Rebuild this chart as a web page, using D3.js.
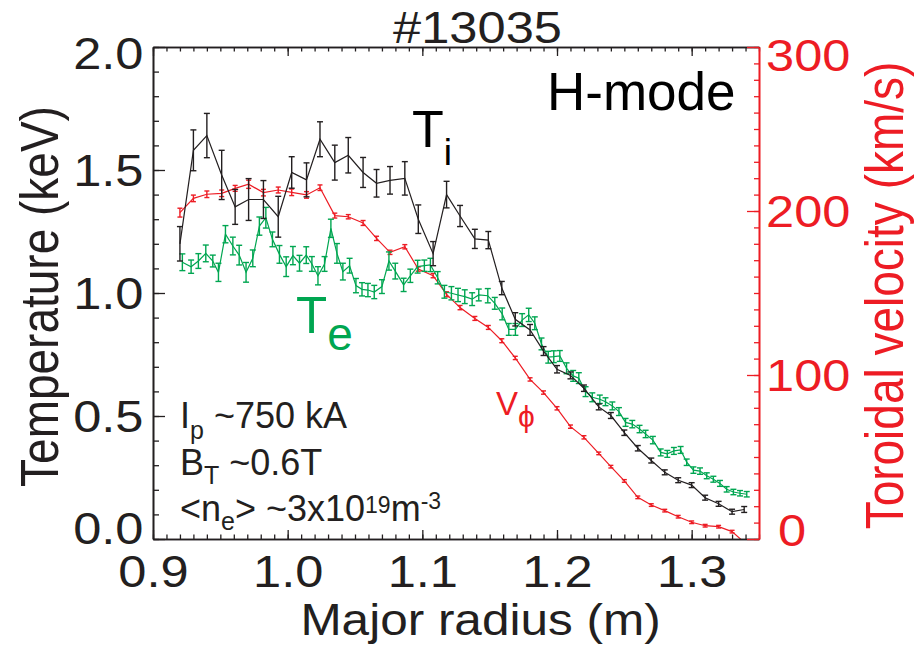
<!DOCTYPE html>
<html>
<head>
<meta charset="utf-8">
<script src="https://cdn.jsdelivr.net/npm/d3@7"></script>
<style>
body { margin: 0; background: #fff; }
text { font-family: "Liberation Sans", Arial, Helvetica, sans-serif; }
</style>
</head>
<body>
<div id="chart"></div>
<script>
// radii of the charge-exchange chords (Ti and V share them)
var rCx = [0.920, 0.930, 0.940, 0.951, 0.961, 0.971, 0.982, 0.993, 1.003, 1.014,
  1.024, 1.035, 1.045, 1.056, 1.066, 1.076, 1.087, 1.097, 1.108, 1.118,
  1.128, 1.139, 1.149, 1.159, 1.169, 1.180, 1.190, 1.200, 1.210, 1.220,
  1.231, 1.240, 1.250, 1.260, 1.270, 1.280, 1.290, 1.300, 1.310, 1.320,
  1.330, 1.339];
var tiVal = [1.20, 1.58, 1.64, 1.48, 1.35, 1.38, 1.38, 1.31, 1.49, 1.46,
  1.625, 1.53, 1.56, 1.49, 1.446, 1.458, 1.466, 1.30, 1.16, 1.40,
  1.313, 1.22, 1.215, 1.02, 0.893, 0.85, 0.764, 0.69, 0.665, 0.613,
  0.537, 0.502, 0.432, 0.369, 0.319, 0.271, 0.239, 0.219, 0.168, 0.143,
  0.111, 0.12];
var tiErr = [0.07, 0.083, 0.09, 0.1, 0.071, 0.085, 0.077, 0.083, 0.064, 0.069,
  0.071, 0.071, 0.072, 0.061, 0.056, 0.056, 0.068, 0.058, 0.049, 0.054,
  0.043, 0.039, 0.035, 0.027, 0.027, 0.022, 0.018, 0.015, 0.014, 0.013,
  0.012, 0.012, 0.011, 0.011, 0.01, 0.01, 0.01, 0.01, 0.01, 0.01,
  0.01, 0.012];
var vVal = [199.0, 207.7, 210.2, 210.8, 213.8, 216.3, 211.2, 212.8, 211.4, 209.8,
  214.2, 197.2, 196.5, 192.7, 183.3, 174.8, 178.2, 164.6, 160.6, 149.2,
  141.1, 134.5, 129.0, 120.9, 110.4, 97.3, 89.3, 79.7, 68.5, 62.0,
  52.2, 44.1, 35.4, 25.4, 20.7, 17.3, 13.6, 10.2, 8.1, 7.5,
  4.5, -2.0];
var vErr = [2.7, 2.0, 2.0, 2.0, 1.8, 2.5, 2.0, 1.8, 2.0, 2.0,
  1.7, 1.5, 1.3, 1.5, 1.3, 1.3, 1.3, 1.3, 1.3, 1.5,
  1.3, 1.2, 1.2, 1.2, 1.0, 1.0, 1.0, 1.0, 1.0, 1.0,
  0.8, 0.8, 0.8, 0.8, 0.8, 0.8, 0.8, 0.8, 0.8, 0.8,
  0.8, 0.8];

// Thomson scattering radii and Te
var rTs = [0.9218, 0.9283, 0.9337, 0.9392, 0.9444, 0.9486, 0.9538, 0.9593, 0.9640, 0.9691,
  0.9741, 0.9790, 0.9838, 0.9887, 0.9939, 0.9989, 1.0039, 1.0088, 1.0138, 1.0180,
  1.0225, 1.0274, 1.0321, 1.0366, 1.0410, 1.0460, 1.0507, 1.0552, 1.0596, 1.0643,
  1.0700, 1.0752, 1.0799, 1.0861, 1.0911, 1.0965, 1.1015, 1.1060, 1.1114, 1.1164,
  1.1216, 1.1265, 1.1315, 1.1370, 1.1419, 1.1486, 1.1538, 1.1593, 1.1642, 1.1691,
  1.1741, 1.1790, 1.1835, 1.1885, 1.1935, 1.1976, 1.2021, 1.2071, 1.2120, 1.2162,
  1.2212, 1.2262, 1.2318, 1.2360, 1.2411, 1.2460, 1.2509, 1.2559, 1.2613, 1.2658,
  1.2712, 1.2770, 1.2819, 1.2868, 1.2918, 1.2963, 1.3013, 1.3062, 1.3112, 1.3161,
  1.3210, 1.3260, 1.3310, 1.3359, 1.3409];
var teVal = [1.125, 1.107, 1.13, 1.161, 1.13, 1.084, 1.239, 1.191, 1.154, 1.084,
  1.141, 1.272, 1.306, 1.218, 1.157, 1.107, 1.152, 1.121, 1.154, 1.118,
  1.07, 1.118, 1.263, 1.161, 1.087, 1.111, 1.03, 1.015, 1.012, 1.004,
  1.026, 1.13, 1.089, 1.033, 1.07, 1.107, 1.111, 1.114, 1.062, 1.005,
  0.999, 0.992, 0.985, 0.975, 0.992, 0.989, 0.958, 0.915, 0.852, 0.852,
  0.89, 0.911, 0.877, 0.793, 0.739, 0.741, 0.744, 0.694, 0.663, 0.654,
  0.599, 0.576, 0.568, 0.558, 0.541, 0.518, 0.474, 0.467, 0.447, 0.427,
  0.402, 0.352, 0.346, 0.358, 0.362, 0.312, 0.28, 0.276, 0.257, 0.243,
  0.226, 0.202, 0.191, 0.186, 0.182];
var teErr = [0.034, 0.027, 0.03, 0.034, 0.024, 0.037, 0.035, 0.036, 0.04, 0.04,
  0.034, 0.037, 0.042, 0.03, 0.036, 0.04, 0.037, 0.032, 0.034, 0.03,
  0.037, 0.03, 0.037, 0.04, 0.034, 0.03, 0.029, 0.027, 0.027, 0.027,
  0.028, 0.037, 0.032, 0.027, 0.027, 0.026, 0.023, 0.027, 0.025, 0.026,
  0.027, 0.027, 0.028, 0.026, 0.024, 0.029, 0.024, 0.024, 0.024, 0.024,
  0.026, 0.027, 0.026, 0.024, 0.024, 0.024, 0.022, 0.022, 0.022, 0.022,
  0.02, 0.018, 0.017, 0.016, 0.016, 0.016, 0.016, 0.015, 0.015, 0.015,
  0.015, 0.014, 0.014, 0.014, 0.014, 0.013, 0.013, 0.013, 0.012, 0.012,
  0.012, 0.011, 0.011, 0.011, 0.011];

// axis ticks
var xMajor = [0.9, 1.0, 1.1, 1.2, 1.3];
var tMajor = [0.0, 0.5, 1.0, 1.5, 2.0];
var vMajor = [0, 100, 200, 300];

var black = "#231f20";
var green = "#00a651";
var red = "#ed1c24";

var width = 916;
var height = 645;

var svg = d3
  .select("#chart")
  .append("svg")
  .attr("width", width)
  .attr("height", height);

var x = d3.scaleLinear().domain([0.9, 1.35]).range([153, 759]);
var yT = d3.scaleLinear().domain([0, 2]).range([539, 47]);
var yV = d3.scaleLinear().domain([0, 300]).range([539, 47]);

svg.append("clipPath").attr("id", "plotclip")
  .append("rect")
  .attr("x", x(0.9)).attr("y", yT(2))
  .attr("width", x(1.35) - x(0.9)).attr("height", yT(0) - yT(2));

var plot = svg.append("g").attr("clip-path", "url(#plotclip)");

function drawSeries(rs, vals, errs, yScale, color, capW) {
  var g = plot.append("g");
  var line = d3.line()
    .x(function(d, i) { return x(rs[i]); })
    .y(function(d) { return yScale(d); });
  g.append("path")
    .datum(vals)
    .attr("d", line)
    .attr("fill", "none")
    .attr("stroke", color)
    .attr("stroke-width", 1.2);
  var bars = g.selectAll(".eb")
    .data(vals)
    .enter()
    .append("g")
    .attr("class", "eb")
    .attr("stroke", color)
    .attr("stroke-width", 1.4);
  bars.append("line")
    .attr("x1", function(d, i) { return x(rs[i]); })
    .attr("x2", function(d, i) { return x(rs[i]); })
    .attr("y1", function(d, i) { return yScale(d - errs[i]); })
    .attr("y2", function(d, i) { return yScale(d + errs[i]); });
  bars.append("line")
    .attr("x1", function(d, i) { return x(rs[i]) - capW / 2; })
    .attr("x2", function(d, i) { return x(rs[i]) + capW / 2; })
    .attr("y1", function(d, i) { return yScale(d - errs[i]); })
    .attr("y2", function(d, i) { return yScale(d - errs[i]); });
  bars.append("line")
    .attr("x1", function(d, i) { return x(rs[i]) - capW / 2; })
    .attr("x2", function(d, i) { return x(rs[i]) + capW / 2; })
    .attr("y1", function(d, i) { return yScale(d + errs[i]); })
    .attr("y2", function(d, i) { return yScale(d + errs[i]); });
}

drawSeries(rCx, vVal, vErr, yV, red, 5);
drawSeries(rTs, teVal, teErr, yT, green, 6);
drawSeries(rCx, tiVal, tiErr, yT, black, 6);

// axes
function styleAxis(g, color) {
  g.attr("font-family", null).attr("font-size", null);
  g.select(".domain").attr("stroke", color).attr("stroke-width", 1.6);
  g.selectAll(".tick line").attr("stroke", color).attr("stroke-width", 1.3);
}

var xMinor = d3.range(90, 136).map(function(d) { return d / 100; });
var tMinor = d3.range(0, 21).map(function(d) { return d / 10; });
var vMinor = d3.range(0, 31).map(function(d) { return d * 10; });

// top
svg.append("g").attr("transform", "translate(0," + yT(2) + ")")
  .call(d3.axisTop(x).tickValues(xMinor).tickSizeInner(-4.5).tickSizeOuter(0).tickFormat(""))
  .call(styleAxis, black);
svg.append("g").attr("transform", "translate(0," + yT(2) + ")")
  .call(d3.axisTop(x).tickValues(xMajor).tickSizeInner(-9).tickSizeOuter(0).tickFormat(""))
  .call(styleAxis, black);

// bottom
svg.append("g").attr("transform", "translate(0," + yT(0) + ")")
  .call(d3.axisBottom(x).tickValues(xMinor).tickSizeInner(-4.5).tickSizeOuter(0).tickFormat(""))
  .call(styleAxis, black);
var xAxis = svg.append("g").attr("transform", "translate(0," + yT(0) + ")")
  .call(d3.axisBottom(x).tickValues(xMajor).tickSizeInner(-9).tickSizeOuter(0).tickFormat(d3.format(".1f")))
  .call(styleAxis, black);
xAxis.selectAll(".tick text")
  .attr("x", 0).attr("y", 0).attr("dy", null)
  .attr("text-anchor", "middle")
  .attr("font-size", 44)
  .attr("fill", black)
  .attr("transform", "translate(0,48) scale(1.15,1)");

// left
svg.append("g").attr("transform", "translate(" + x(0.9) + ",0)")
  .call(d3.axisLeft(yT).tickValues(tMinor).tickSizeInner(-6).tickSizeOuter(0).tickFormat(""))
  .call(styleAxis, black);
var yAxisL = svg.append("g").attr("transform", "translate(" + x(0.9) + ",0)")
  .call(d3.axisLeft(yT).tickValues(tMajor).tickSizeInner(-12).tickSizeOuter(0).tickFormat(d3.format(".1f")))
  .call(styleAxis, black);
yAxisL.selectAll(".tick text")
  .attr("x", 0).attr("y", 0).attr("dy", null)
  .attr("text-anchor", "end")
  .attr("font-size", 44)
  .attr("fill", black)
  .attr("transform", function(d) {
    var off = d === 2 ? 21 : d === 0 ? 4 : 15.5;
    return "translate(-9.5," + off + ") scale(1.15,1)";
  });

// right
svg.append("g").attr("transform", "translate(" + x(1.35) + ",0)")
  .call(d3.axisRight(yV).tickValues(vMinor).tickSizeInner(-5).tickSizeOuter(0).tickFormat(""))
  .call(styleAxis, red);
var yAxisR = svg.append("g").attr("transform", "translate(" + x(1.35) + ",0)")
  .call(d3.axisRight(yV).tickValues(vMajor).tickSizeInner(-12).tickSizeOuter(0).tickFormat(d3.format("d")))
  .call(styleAxis, red);
yAxisR.selectAll(".tick text")
  .attr("x", 0).attr("y", 0).attr("dy", null)
  .attr("text-anchor", "start")
  .attr("font-size", 44)
  .attr("fill", red)
  .attr("transform", function(d) {
    var off = d === 300 ? 23 : d === 0 ? 6 : 15.5;
    var dx = d === 0 ? 19 : 7;
    return "translate(" + dx + "," + off + ") scale(1.15,1)";
  });

// titles
svg.append("text")
  .attr("transform", "translate(477.5,43) scale(1.15,1)")
  .attr("text-anchor", "middle")
  .attr("font-size", 44)
  .attr("fill", black)
  .text("#13035");

svg.append("text")
  .attr("transform", "translate(480.5,635) scale(1.1,1)")
  .attr("text-anchor", "middle")
  .attr("font-size", 45)
  .attr("fill", black)
  .text("Major radius (m)");

svg.append("text")
  .attr("transform", "translate(58.4,296.5) scale(1.15,1) rotate(-90)")
  .attr("text-anchor", "middle")
  .attr("font-size", 46)
  .attr("fill", black)
  .text("Temperature (keV)");

svg.append("text")
  .attr("transform", "translate(902.5,295.5) scale(1.15,1) rotate(-90)")
  .attr("text-anchor", "middle")
  .attr("font-size", 46)
  .attr("fill", red)
  .text("Toroidal velocity (km/s)");

// annotations
svg.append("text")
  .attr("x", 547).attr("y", 110)
  .attr("font-size", 53)
  .attr("fill", "#000")
  .text("H-mode");

var ti = svg.append("text").attr("x", 412).attr("y", 147).attr("fill", "#000").attr("font-size", 52);
ti.append("tspan").text("T");
ti.append("tspan").attr("dy", 18).attr("font-size", 37).text("i");

var te = svg.append("text").attr("x", 296).attr("y", 333).attr("fill", green).attr("font-size", 51);
te.append("tspan").text("T");
te.append("tspan").attr("dy", 17).attr("font-size", 46).text("e");

var vphi = svg.append("text").attr("x", 496).attr("y", 415).attr("fill", red).attr("font-size", 33);
vphi.append("tspan").text("V");
vphi.append("tspan").attr("dy", 12).attr("font-size", 30).text("\u03d5");

var ip = svg.append("text").attr("x", 180).attr("y", 428).attr("fill", black).attr("font-size", 36);
ip.append("tspan").text("I");
ip.append("tspan").attr("dy", 11).attr("font-size", 25).text("p");
ip.append("tspan").attr("dy", -11).text(" ~750 kA");

var bt = svg.append("text").attr("x", 180).attr("y", 475).attr("fill", black).attr("font-size", 36);
bt.append("tspan").text("B");
bt.append("tspan").attr("dy", 9).attr("font-size", 25).text("T");
bt.append("tspan").attr("dy", -9).text(" ~0.6T");

var ne = svg.append("text").attr("x", 180).attr("y", 521).attr("fill", black).attr("font-size", 36);
ne.append("tspan").text("<n");
ne.append("tspan").attr("dy", 9).attr("font-size", 25).text("e");
ne.append("tspan").attr("dy", -9).text("> ~3x10");
ne.append("tspan").attr("dy", -8).attr("font-size", 23).text("19");
ne.append("tspan").attr("dy", 8).text("m");
ne.append("tspan").attr("dy", -12).attr("font-size", 23).text("-3");
</script>
</body>
</html>
